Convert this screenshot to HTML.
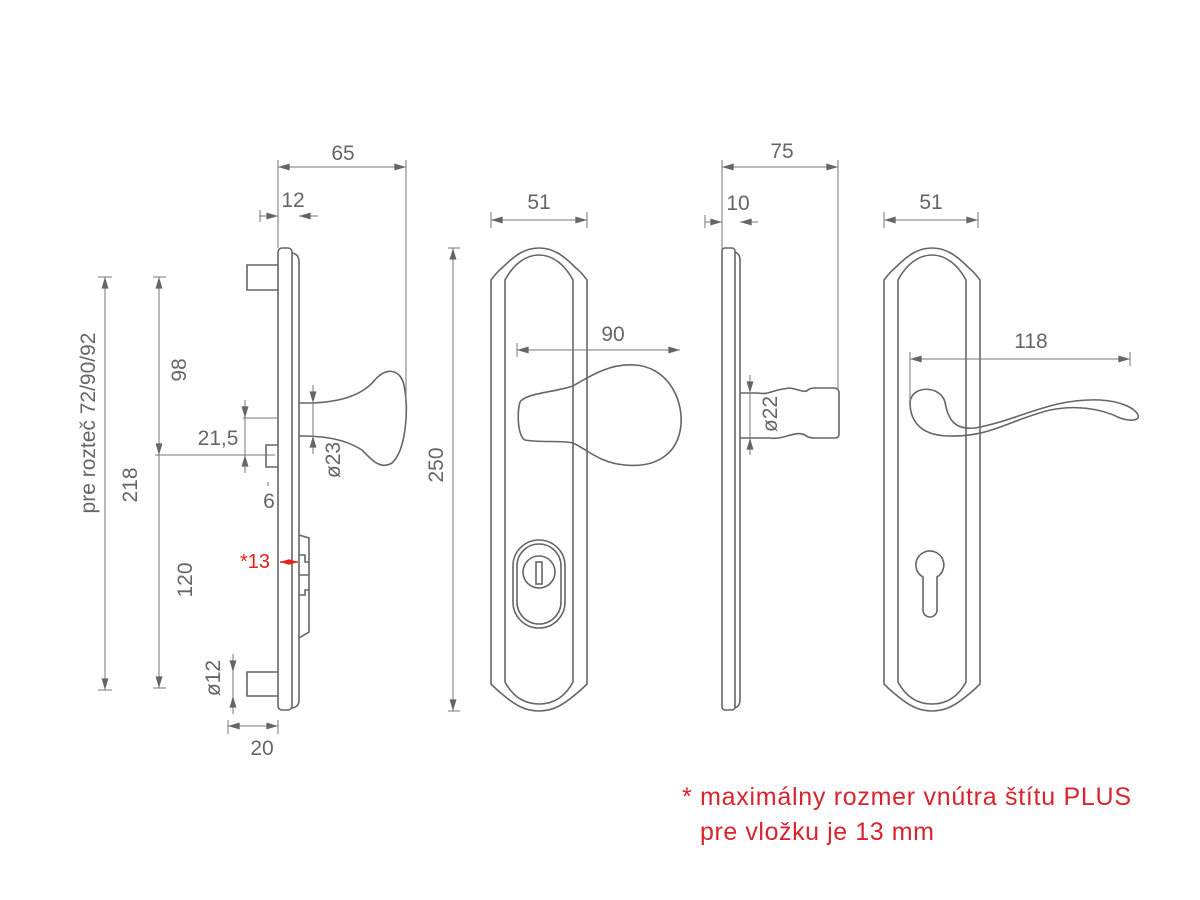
<!DOCTYPE html>
<html><head><meta charset="utf-8"><style>
html,body{margin:0;padding:0;background:#fff;width:1200px;height:900px;overflow:hidden}
svg text{font-family:"Liberation Sans",sans-serif;fill:#666;font-size:21px}
</style></head><body>
<svg width="1200" height="900" viewBox="0 0 1200 900" xmlns="http://www.w3.org/2000/svg">
<defs>
<marker id="a" viewBox="0 0 10 6" refX="10" refY="3" markerWidth="18" markerHeight="7" markerUnits="userSpaceOnUse" orient="auto-start-reverse"><path d="M0,0 L10,3 L0,6 Z" fill="#666"/></marker>
<marker id="r" viewBox="0 0 10 6" refX="10" refY="3" markerWidth="9" markerHeight="6" markerUnits="userSpaceOnUse" orient="auto-start-reverse"><path d="M0,0 L10,3 L0,6 Z" fill="#e2231a"/></marker>
<g id="plate">
<path d="M491,280 Q497,272 502,268 C515,255 525,248 539,248 C553,248 563,255 576,268 Q581,272 587,280 V684 Q581,690 576,694 C563,705 553,711 539,711 C525,711 515,705 502,694 Q497,690 491,684 Z"/>
<path d="M505,280 C513,265 525,255 539,255 C553,255 565,265 573,280 V682 C565,697 553,704 539,704 C525,704 513,697 505,682 Z"/>
</g>
</defs>
<g fill="none" stroke="#666" stroke-width="1.6">
<rect x="278" y="248" width="14" height="462" rx="4"/>
<path d="M292,253 Q299,254 299,262 V700 Q299,707 292,708"/>
<path d="M278,265 H247 V290 H278 M278,672 H247 V696 H278 M278,445 H266 V467 H278"/>
<path d="M299,403 H312 C340,402 362,395 374,381 C385,367 400,368 404,385 C409,410 406,450 392,463 C380,470 372,460 362,450 C345,439 325,436 299,436"/>
<path d="M299,535 L309,538 V632 L299,638 M299,555 H305 V562 H309 M299,575 H309 M299,595 H305 V590 H309"/>
<use href="#plate"/>
<use href="#plate" transform="translate(393,0)"/>
<path d="M573,386 C590,376 610,363 635,365 C665,367 683,395 681,425 C678,455 655,468 625,465 C600,463 588,450 573,443 C560,440 540,443 525,440 C516,436 517,400 522,400 C530,393 555,392 573,386 Z"/>
<rect x="513" y="540" width="52" height="88" rx="26"/>
<rect x="517" y="544" width="44" height="80" rx="22"/>
<circle cx="539" cy="572" r="16"/>
<rect x="536" y="562" width="6" height="22"/>
<rect x="722" y="248" width="13" height="462" rx="3"/>
<path d="M735,252 Q740,254 740,260 V700 Q740,706 735,708"/>
<path d="M740,393 H758 C770,395 770,390 790,388 C800,390 805,393 808,390 Q810,388 815,388 H835 Q839,389 839,393 V434 Q839,438 835,438 H815 Q808,438 805,435 C795,430 785,440 770,438 H740"/>
<path d="M910,402 C912,385 940,385 945,402 C948,420 955,430 975,428 C1020,420 1050,398 1100,400 C1120,401 1135,408 1138,415 C1140,420 1132,422 1120,418 C1100,408 1075,405 1050,410 C1010,420 990,437 950,436 C925,436 910,425 910,402 Z"/>
<path d="M916,567 A14,14 0 1 1 937,577 V610 A7,7 0 0 1 923,610 V577 A14,14 0 0 1 916,567 Z"/>
</g>
<g fill="none" stroke="#777" stroke-width="1">
<path d="M278,160 V248 M406,160 V400 M98,277 H112 M98,690 H112 M153,277 H166 M153,688 H166 M155,455 H275 M243,418 H278 M260,210 V222 M448,248 H460 M448,711 H460 M491,212 V228 M587,212 V228 M517,343 V357 M722,160 V250 M838,160 V390 M705,215 V228 M884,212 V228 M978,212 V228 M910,352 V400 M1130,352 V366 M228,720 V734 M278,720 V734 M268,482 V486"/>
<path d="M278,167 H406" marker-start="url(#a)" marker-end="url(#a)"/>
<path d="M260,216 H278" marker-end="url(#a)"/><path d="M318,216 H299" marker-end="url(#a)"/>
<path d="M105,277 V690" marker-start="url(#a)" marker-end="url(#a)"/>
<path d="M159,277 V455" marker-start="url(#a)" marker-end="url(#a)"/>
<path d="M159,455 V688" marker-end="url(#a)"/>
<path d="M245,400 V418" marker-end="url(#a)"/><path d="M245,473 V455" marker-end="url(#a)"/><path d="M245,418 V455"/>
<path d="M313,385 V403" marker-end="url(#a)"/><path d="M313,454 V436" marker-end="url(#a)"/><path d="M313,403 V436"/>
<path d="M233,654 V672" marker-end="url(#a)"/><path d="M233,714 V696" marker-end="url(#a)"/><path d="M233,672 V696"/>
<path d="M228,726 H278" marker-start="url(#a)" marker-end="url(#a)"/>
<path d="M491,220 H587" marker-start="url(#a)" marker-end="url(#a)"/>
<path d="M453,248 V711" marker-start="url(#a)" marker-end="url(#a)"/>
<path d="M517,350 H680" marker-start="url(#a)" marker-end="url(#a)"/>
<path d="M722,167 H838" marker-start="url(#a)" marker-end="url(#a)"/>
<path d="M705,222 H722" marker-end="url(#a)"/><path d="M758,222 H740" marker-end="url(#a)"/>
<path d="M750,375 V393" marker-end="url(#a)"/><path d="M750,455 V438" marker-end="url(#a)"/><path d="M750,393 V438"/>
<path d="M884,220 H978" marker-start="url(#a)" marker-end="url(#a)"/>
<path d="M910,359 H1130" marker-start="url(#a)" marker-end="url(#a)"/>
</g>
<path d="M280,562 H298" stroke="#e2231a" stroke-width="1.4" marker-start="url(#r)" marker-end="url(#r)"/>
<g text-anchor="middle">
<text x="343" y="160">65</text>
<text x="293" y="207">12</text>
<text x="218" y="445">21,5</text>
<text x="269" y="508">6</text>
<text x="262" y="755">20</text>
<text x="539" y="209">51</text>
<text x="613" y="341">90</text>
<text x="782" y="158">75</text>
<text x="738" y="210">10</text>
<text x="931" y="209">51</text>
<text x="1031" y="348">118</text>
<text transform="translate(95,423) rotate(-90)">pre rozteč 72/90/92</text>
<text transform="translate(137,485) rotate(-90)">218</text>
<text transform="translate(186,370) rotate(-90)">98</text>
<text transform="translate(192,580) rotate(-90)">120</text>
<text transform="translate(340,460) rotate(-90)">ø23</text>
<text transform="translate(220,678) rotate(-90)">ø12</text>
<text transform="translate(443,465) rotate(-90)">250</text>
<text transform="translate(777,414) rotate(-90)">ø22</text>
</g>
<text x="240" y="568" style="fill:#e2231a;font-size:20px">*13</text>
<text x="682" y="805" textLength="449" style="fill:#d9232d;font-size:25px">* maximálny rozmer vnútra štítu PLUS</text>
<text x="700" y="840" textLength="234" style="fill:#d9232d;font-size:25px">pre vložku je 13 mm</text>
</svg>
</body></html>
